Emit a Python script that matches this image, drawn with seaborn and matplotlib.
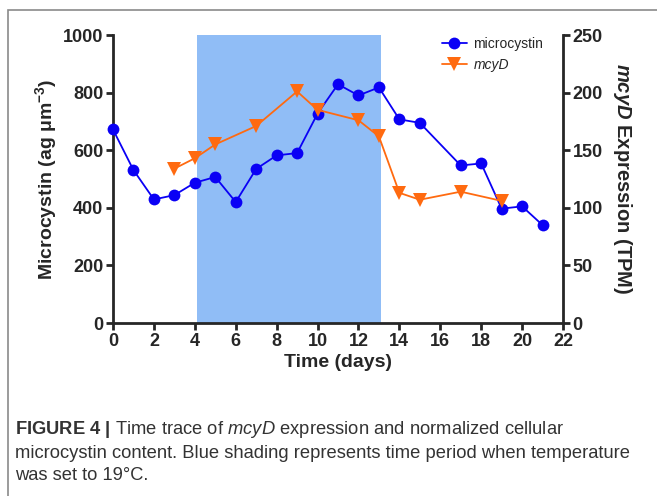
import matplotlib
matplotlib.use("Agg")
import matplotlib.pyplot as plt
import seaborn as sns
import pandas as pd
from matplotlib.patches import Rectangle

# Données
days_mc = [0, 1, 2, 3, 4, 5, 6, 7, 8, 9, 10, 11, 12, 13, 14, 15, 17, 18, 19, 20, 21]
microcystin = [672, 531, 429, 444, 487, 507, 420, 535, 582, 590, 727, 829, 790, 818,
               707, 695, 547, 554, 397, 405, 340]

days_mcyd = [3, 4, 5, 7, 9, 10, 12, 13, 14, 15, 17, 19]
mcyd = [134, 143, 155, 171, 201, 185, 176, 162, 113, 107, 114, 106]

shade_start, shade_end = 4.1, 13.1

x_ticks = list(range(0, 23, 2))
left_ticks = [0, 200, 400, 600, 800, 1000]
right_ticks = [0, 50, 100, 150, 200, 250]

caption_lines = [
    r"$\mathbf{FIGURE\ 4\ |}$ Time trace of $\mathit{mcyD}$ expression and normalized cellular",
    "microcystin content. Blue shading represents time period when temperature",
    "was set to 19°C.",
]

sns.set_style("ticks")
plt.rcParams["font.family"] = ["Liberation Sans", "DejaVu Sans"]
plt.rcParams["mathtext.fontset"] = "custom"
plt.rcParams["mathtext.rm"] = "Liberation Sans"
plt.rcParams["mathtext.it"] = "Liberation Sans:italic"
plt.rcParams["mathtext.bf"] = "Liberation Sans:bold"
plt.rcParams["mathtext.bfit"] = "Liberation Sans:italic:bold"

df_mc = pd.DataFrame({"day": days_mc, "value": microcystin})
df_md = pd.DataFrame({"day": days_mcyd, "value": mcyd})

blue = "#0a00f5"
orange = "#ff6a10"
shade = "#90bdf6"

fig = plt.figure(figsize=(6.57, 4.96), dpi=100)
ax = fig.add_axes([113 / 657, 1 - 323 / 496, 450 / 657, 288 / 496])
ax2 = ax.twinx()

ax.axvspan(shade_start, shade_end, color=shade, lw=0, zorder=0)

sns.lineplot(data=df_mc, x="day", y="value", ax=ax, color=blue, marker="o",
             markersize=8.5, markeredgewidth=0, linewidth=1.3, clip_on=False,
             label="microcystin", legend=False, zorder=3)
sns.lineplot(data=df_md, x="day", y="value", ax=ax2, color=orange, marker="v",
             markersize=9.5, markeredgewidth=0, linewidth=1.3, clip_on=False,
             label="mcyD", legend=False, zorder=3)

ax.set_xlim(0, 22)
ax.set_ylim(0, 1000)
ax2.set_ylim(0, 250)
ax.set_xticks(x_ticks)
ax.set_yticks(left_ticks)
ax2.set_yticks(right_ticks)

for a in (ax, ax2):
    for s in a.spines.values():
        s.set_linewidth(2)
    a.spines["top"].set_visible(False)
    a.tick_params(width=2, length=5, labelsize=13, pad=2)
    for lab in a.get_xticklabels() + a.get_yticklabels():
        lab.set_fontweight("bold")
ax.spines["right"].set_visible(False)
ax2.spines["left"].set_visible(False)
ax2.spines["bottom"].set_visible(False)

ax.set_xlabel("Time (days)", fontsize=14, fontweight="bold", labelpad=3)
ax.set_ylabel(r"Microcystin (ag μm$^{\mathbf{-3}}$)", fontsize=14, fontweight="bold", labelpad=3)
ax2.set_ylabel(r"$\mathbfit{mcyD}$ Expression (TPM)", fontsize=14.5, fontweight="bold",
               rotation=270, labelpad=22)
ax.set_zorder(ax2.get_zorder() - 1)
ax2.patch.set_visible(False)
ax.patch.set_visible(False)

h1, l1 = ax.get_legend_handles_labels()
h2, l2 = ax2.get_legend_handles_labels()
leg = fig.legend(h1 + h2, l1 + l2, loc="upper left", bbox_to_anchor=(436 / 657, 1 - 31 / 496),
                 frameon=False, fontsize=10, handlelength=1.8, handletextpad=0.5,
                 labelspacing=0.5, borderaxespad=0)
leg.get_texts()[1].set_fontstyle("italic")

# cadre de la figure
fig.patches.append(Rectangle((8 / 657, -0.1), 1.2, 1.1 - 10 / 496, transform=fig.transFigure,
                             fill=False, edgecolor="#8a8a8a", linewidth=1.2))

for i, line in enumerate(caption_lines):
    fig.text(15 / 657, 1 - (430 + 23 * i) / 496, line, fontsize=13.2, color="#333333",
             va="center", ha="left")

fig.savefig("out.png", dpi=100)
